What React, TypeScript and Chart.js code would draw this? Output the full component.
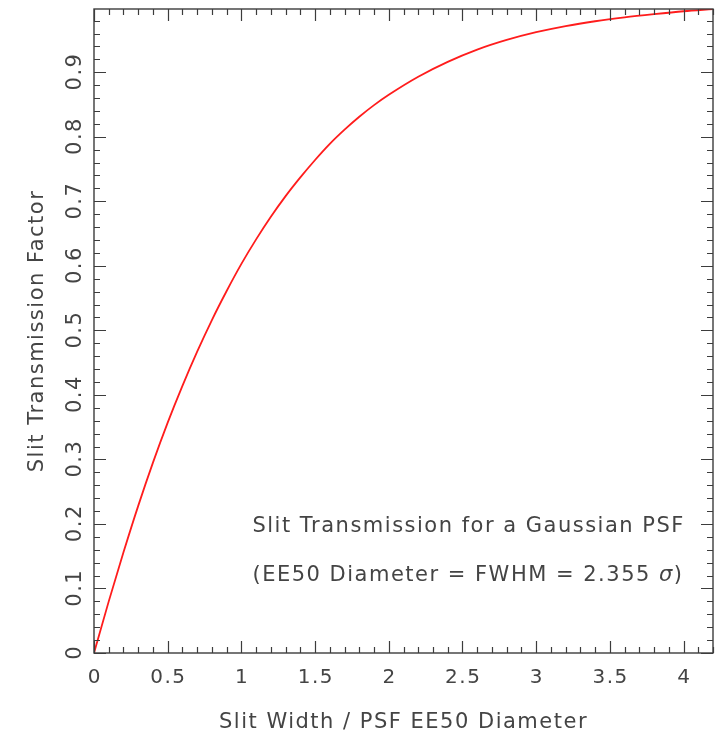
import React, { useEffect, useRef } from "react";
import { Chart, registerables } from "chart.js";

Chart.register(...registerables);

// ---- data ----
const slitWidth = [0, 0.1, 0.2, 0.3, 0.4, 0.5, 0.6, 0.7, 0.8, 0.9, 1.0, 1.1, 1.2, 1.3, 1.4, 1.5, 1.6, 1.7, 1.8, 1.9, 2.0, 2.2, 2.4, 2.6, 2.8, 3.0, 3.2, 3.4, 3.6, 3.8, 4.0, 4.2];
const transmission = [0, 0.080, 0.156, 0.228, 0.295, 0.357, 0.414, 0.467, 0.516, 0.561, 0.603, 0.641, 0.676, 0.708, 0.737, 0.764, 0.789, 0.811, 0.831, 0.849, 0.865, 0.893, 0.916, 0.935, 0.950, 0.962, 0.9715, 0.979, 0.985, 0.990, 0.9945, 0.998];

const xRange = [0, 4.2];
const yRange = [0, 0.998];
const xStep = 0.5;
const yStep = 0.1;
const xMinorPerMajor = 5;
const yMinorPerMajor = 5;

const xAxisTitle = "Slit Width / PSF EE50 Diameter";
const yAxisTitle = "Slit Transmission Factor";
const noteLine1 = "Slit Transmission for a Gaussian PSF";
const noteLine2 = "(EE50 Diameter = FWHM = 2.355 ";
const noteSigma = "σ";
const noteClose = ")";

// ---- styles ----
const LINE_COLOR = "rgb(255,28,28)";
const AXIS_COLOR = "#3c3c3c";
const TEXT_COLOR = "#444444";
const FONT = '"DejaVu Sans", sans-serif';

function fmt(v: number): string {
  return String(parseFloat(v.toFixed(3)));
}

const framePlugin = {
  id: "pgFrame",
  afterDatasetsDraw(chart: any) {
    const { ctx, chartArea: a, scales } = chart;
    const xs = scales.x;
    const ys = scales.y;
    ctx.save();
    // frame
    ctx.strokeStyle = AXIS_COLOR;
    ctx.lineWidth = 1.4;
    ctx.strokeRect(a.left, a.top, a.right - a.left, a.bottom - a.top);

    // ticks (all four sides, inward)
    ctx.lineWidth = 1.2;
    const xMinor = xStep / xMinorPerMajor;
    const nx = Math.floor((xRange[1] - xRange[0]) / xMinor + 1e-6);
    ctx.beginPath();
    for (let i = 0; i <= nx; i++) {
      const v = xRange[0] + i * xMinor;
      const px = Math.round(xs.getPixelForValue(v)) + 0.5;
      const len = i % xMinorPerMajor === 0 ? 12 : 6;
      ctx.moveTo(px, a.bottom);
      ctx.lineTo(px, a.bottom - len);
      ctx.moveTo(px, a.top);
      ctx.lineTo(px, a.top + len);
    }
    const yMinor = yStep / yMinorPerMajor;
    const ny = Math.floor((yRange[1] - yRange[0]) / yMinor + 1e-6);
    for (let i = 0; i <= ny; i++) {
      const v = yRange[0] + i * yMinor;
      const py = Math.round(ys.getPixelForValue(v)) + 0.5;
      const len = i % yMinorPerMajor === 0 ? 12 : 6;
      ctx.moveTo(a.left, py);
      ctx.lineTo(a.left + len, py);
      ctx.moveTo(a.right, py);
      ctx.lineTo(a.right - len, py);
    }
    ctx.stroke();

    // tick labels
    ctx.fillStyle = TEXT_COLOR;
    (ctx as any).letterSpacing = "1.5px";
    ctx.font = `20px ${FONT}`;
    ctx.textAlign = "center";
    ctx.textBaseline = "alphabetic";
    xs.ticks.forEach((t: any) => {
      ctx.fillText(fmt(t.value), xs.getPixelForValue(t.value) + 0.75, a.bottom + 29.5);
    });
    ctx.font = `21px ${FONT}`;
    ys.ticks.forEach((t: any) => {
      ctx.save();
      ctx.translate(a.left - 13, ys.getPixelForValue(t.value) - 0.75);
      ctx.rotate(-Math.PI / 2);
      ctx.fillText(fmt(t.value), 0, 0);
      ctx.restore();
    });

    // axis titles
    ctx.font = `21px ${FONT}`;
    ctx.fillText(xAxisTitle, (a.left + a.right) / 2, 728);
    ctx.save();
    ctx.translate(43, (a.top + a.bottom) / 2);
    ctx.rotate(-Math.PI / 2);
    ctx.fillText(yAxisTitle, 0, 0);
    ctx.restore();

    // annotation
    ctx.textAlign = "left";
    const nx0 = xs.getPixelForValue(1.075);
    ctx.fillText(noteLine1, nx0, ys.getPixelForValue(0.188));
    const by = ys.getPixelForValue(0.111);
    ctx.fillText(noteLine2, nx0, by);
    let w = ctx.measureText(noteLine2).width;
    ctx.font = `italic 21px ${FONT}`;
    ctx.fillText(noteSigma, nx0 + w, by);
    w += ctx.measureText(noteSigma).width;
    ctx.font = `21px ${FONT}`;
    ctx.fillText(noteClose, nx0 + w, by);
    ctx.restore();
  },
};

export default function App() {
  const ref = useRef<HTMLCanvasElement | null>(null);
  useEffect(() => {
    if (!ref.current) return;
    const chart = new Chart(ref.current, {
      type: "line",
      data: {
        datasets: [
          {
            data: slitWidth.map((x, i) => ({ x, y: transmission[i] })),
            borderColor: LINE_COLOR,
            borderWidth: 1.8,
            pointRadius: 0,
            fill: false,
            cubicInterpolationMode: "monotone",
          },
        ],
      },
      options: {
        responsive: false,
        animation: false,
        layout: { padding: { top: 9, right: 2, left: 0, bottom: 0 } },
        plugins: {
          legend: { display: false },
          tooltip: { enabled: false },
          title: { display: false },
        },
        scales: {
          x: {
            type: "linear",
            min: xRange[0],
            max: xRange[1],
            ticks: { display: false, stepSize: xStep, includeBounds: false },
            grid: { display: false, drawTicks: false },
            border: { display: false },
            afterFit: (s: any) => {
              s.height = 81;
            },
          },
          y: {
            type: "linear",
            min: yRange[0],
            max: yRange[1],
            ticks: { display: false, stepSize: yStep, includeBounds: false },
            grid: { display: false, drawTicks: false },
            border: { display: false },
            afterFit: (s: any) => {
              s.width = 94;
            },
          },
        },
      } as any,
      plugins: [framePlugin],
    });
    return () => chart.destroy();
  }, []);
  return (
    <div style={{ position: "fixed", left: 0, top: 0, width: 715, height: 734, background: "#fff" }}>
      <canvas ref={ref} width={715} height={734} style={{ display: "block" }} />
    </div>
  );
}
